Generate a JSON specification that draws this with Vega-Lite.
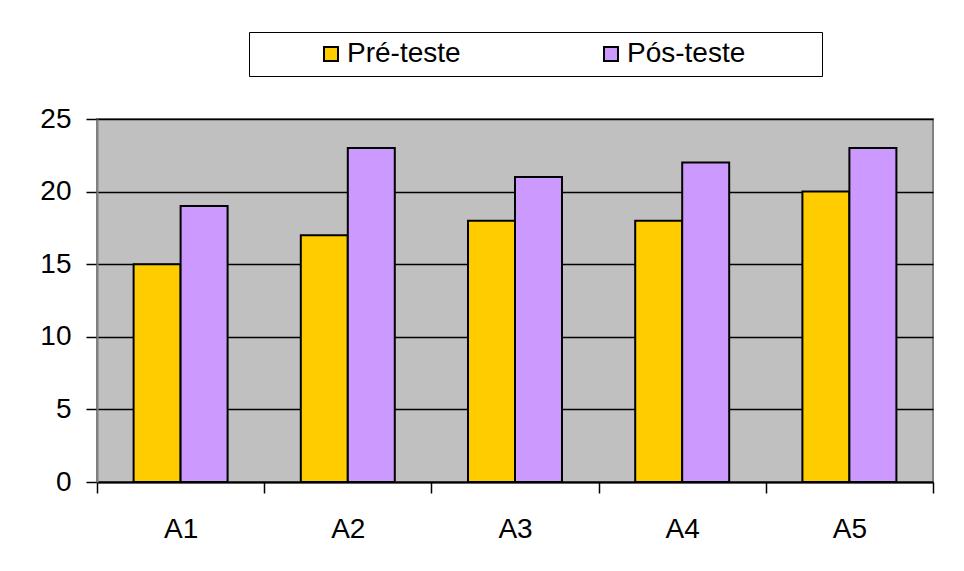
{
  "$schema": "https://vega.github.io/schema/vega-lite/v6.json",
  "autosize": {"type": "none"},
  "padding": {"left": 97, "top": 119, "right": 31, "bottom": 89},
  "width": 836,
  "height": 363,
  "background": "white",
  "data": {
    "values": [
      {"aluno": "A1", "teste": "Pré-teste", "valor": 15},
      {"aluno": "A1", "teste": "Pós-teste", "valor": 19},
      {"aluno": "A2", "teste": "Pré-teste", "valor": 17},
      {"aluno": "A2", "teste": "Pós-teste", "valor": 23},
      {"aluno": "A3", "teste": "Pré-teste", "valor": 18},
      {"aluno": "A3", "teste": "Pós-teste", "valor": 21},
      {"aluno": "A4", "teste": "Pré-teste", "valor": 18},
      {"aluno": "A4", "teste": "Pós-teste", "valor": 22},
      {"aluno": "A5", "teste": "Pré-teste", "valor": 20},
      {"aluno": "A5", "teste": "Pós-teste", "valor": 23}
    ]
  },
  "mark": {"type": "bar", "stroke": "black", "strokeWidth": 2},
  "encoding": {
    "x": {
      "field": "aluno",
      "type": "nominal",
      "scale": {"paddingInner": 0, "paddingOuter": 0},
      "axis": {
        "title": null,
        "labelAngle": 0,
        "tickBand": "extent",
        "tickSize": 11,
        "tickColor": "black",
        "tickWidth": 1.5,
        "domainColor": "black",
        "domainWidth": 2,
        "labelFontSize": 28,
        "labelColor": "black",
        "labelPadding": 22,
        "grid": false
      }
    },
    "xOffset": {
      "field": "teste",
      "type": "nominal",
      "sort": ["Pré-teste", "Pós-teste"],
      "scale": {"paddingInner": 0, "paddingOuter": 0.779}
    },
    "y": {
      "field": "valor",
      "type": "quantitative",
      "scale": {"domain": [0, 25], "nice": false},
      "axis": {
        "title": null,
        "values": [0, 5, 10, 15, 20, 25],
        "tickSize": 11,
        "tickColor": "black",
        "tickWidth": 1.5,
        "domainColor": "#808080",
        "domainWidth": 2,
        "labelFontSize": 28,
        "labelColor": "black",
        "labelPadding": 15,
        "grid": true,
        "gridColor": "black",
        "gridWidth": 1.5,
        "gridOpacity": 1
      }
    },
    "color": {
      "field": "teste",
      "type": "nominal",
      "sort": ["Pré-teste", "Pós-teste"],
      "scale": {"domain": ["Pré-teste", "Pós-teste"], "range": ["#FFCC00", "#CC99FF"]},
      "legend": {
        "orient": "none",
        "direction": "horizontal",
        "legendX": 152,
        "legendY": -87,
        "title": " ",
        "titleOrient": "right",
        "titlePadding": 69,
        "titleFontSize": 28,
        "padding": 8,
        "strokeColor": "black",
        "fillColor": "white",
        "symbolType": "square",
        "symbolSize": 196,
        "symbolStrokeColor": "black",
        "symbolStrokeWidth": 2,
        "symbolOpacity": 1,
        "symbolOffset": 60,
        "labelOffset": 2,
        "columnPadding": 76,
        "labelFontSize": 28,
        "labelColor": "black"
      }
    }
  },
  "config": {
    "font": "Liberation Sans",
    "view": {"fill": "#C0C0C0", "stroke": "#808080", "strokeWidth": 2}
  }
}
